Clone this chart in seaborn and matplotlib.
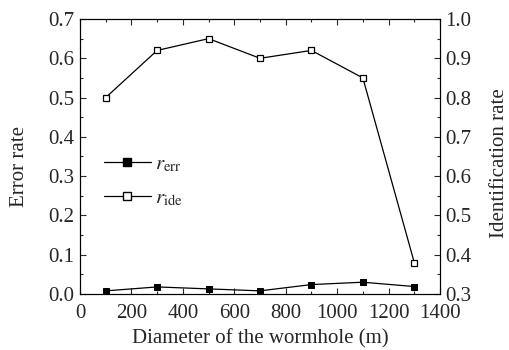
import matplotlib
matplotlib.use("Agg")
import matplotlib.pyplot as plt
import seaborn as sns
import pandas as pd
from matplotlib.ticker import MultipleLocator, FormatStrFormatter
from matplotlib.lines import Line2D

diameter = [100, 300, 500, 700, 900, 1100, 1300]
r_err = [0.008, 0.018, 0.013, 0.008, 0.024, 0.030, 0.019]
r_ide = [0.80, 0.92, 0.95, 0.90, 0.92, 0.85, 0.38]

sns.set_style("ticks")
plt.rcParams['font.family'] = ['Liberation Serif', 'DejaVu Serif']
plt.rcParams['mathtext.fontset'] = 'stix'
plt.rcParams['xtick.direction'] = 'in'
plt.rcParams['ytick.direction'] = 'in'

df = pd.DataFrame({"d": diameter, "err": r_err, "ide": r_ide})

fig = plt.figure(figsize=(5.1, 3.5), dpi=100)
ax = fig.add_axes([80/510, 1-294/350, 360/510, 275/350])
ax2 = ax.twinx()

sns.lineplot(data=df, x="d", y="err", ax=ax, color="black", marker="s",
             markersize=4, markerfacecolor="black", markeredgecolor="black",
             linewidth=0.9)
sns.lineplot(data=df, x="d", y="ide", ax=ax2, color="black", marker="s",
             markersize=4, markerfacecolor="white", markeredgecolor="black",
             markeredgewidth=0.9, linewidth=0.9)

fs = 15
ax.set_xlim(0, 1400)
ax.set_ylim(0, 0.7)
ax2.set_ylim(0.3, 1.0)
ax.xaxis.set_major_locator(MultipleLocator(200))
ax.xaxis.set_minor_locator(MultipleLocator(100))
ax.yaxis.set_major_locator(MultipleLocator(0.1))
ax.yaxis.set_minor_locator(MultipleLocator(0.05))
ax2.yaxis.set_major_locator(MultipleLocator(0.1))
ax2.yaxis.set_minor_locator(MultipleLocator(0.05))
ax.yaxis.set_major_formatter(FormatStrFormatter('%.1f'))
ax2.yaxis.set_major_formatter(FormatStrFormatter('%.1f'))

ax.tick_params(axis='x', which='both', top=True, direction='in', labelsize=fs, pad=7)
ax.tick_params(axis='y', which='both', direction='in', labelsize=fs, pad=4)
ax.tick_params(which='major', length=4.5, width=0.8)
ax.tick_params(which='minor', length=2.5, width=0.8)
ax2.tick_params(axis='y', which='both', direction='in', labelsize=fs, pad=4)
ax2.tick_params(which='major', length=4.5, width=0.8)
ax2.tick_params(which='minor', length=2.5, width=0.8)

for a in (ax, ax2):
    for s in a.spines.values():
        s.set_visible(True)
        s.set_linewidth(0.8)
        s.set_color("black")

ax.set_xlabel("Diameter of the wormhole (m)", fontsize=fs, labelpad=4.5)
ax.set_ylabel("Error rate", fontsize=fs)
ax2.set_ylabel("Identification rate", fontsize=fs)
ax.yaxis.set_label_coords(-0.143, 0.465)
ax2.yaxis.set_label_coords(1.139, 0.476)

handles = [
    Line2D([], [], color="black", marker="s", markersize=5.5, markerfacecolor="black", linewidth=0.9),
    Line2D([], [], color="black", marker="s", markersize=5.5, markerfacecolor="white", linewidth=0.9),
]
ax.legend(handles, [r"$r_{\mathrm{err}}$", r"$r_{\mathrm{ide}}$"], loc="center left",
          bbox_to_anchor=(0.014, 0.409), frameon=False, fontsize=fs, handlelength=2.25,
          handletextpad=0.2, labelspacing=0.68)

fig.savefig("out.png", dpi=100)
